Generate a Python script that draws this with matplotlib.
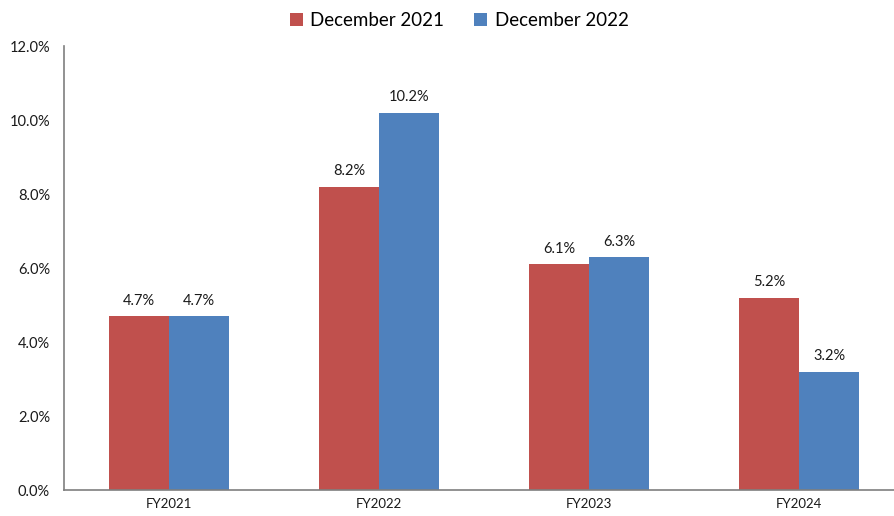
import matplotlib
matplotlib.use("Agg")
import matplotlib.pyplot as plt
import numpy as np

categories = ["FY2021", "FY2022", "FY2023", "FY2024"]
dec2021 = [4.7, 8.2, 6.1, 5.2]
dec2022 = [4.7, 10.2, 6.3, 3.2]
series_names = ["December 2021", "December 2022"]
yticks = [0, 2, 4, 6, 8, 10, 12]

plt.rcParams['font.family'] = ['Lato', 'DejaVu Sans']

fig = plt.figure(figsize=(8.95, 5.16), dpi=100)
ax = fig.add_axes([64/895, 26/516, 840/895, 444/516])

x = np.arange(len(categories))
w = 0.287
b1 = ax.bar(x - w/2, dec2021, w, color="#C0504D", label=series_names[0])
b2 = ax.bar(x + w/2, dec2022, w, color="#4F81BD", label=series_names[1])

for bars, vals in ((b1, dec2021), (b2, dec2022)):
    for r, v in zip(bars, vals):
        ax.text(r.get_x() + r.get_width()/2, v + 0.22, f"{v:.1f}%",
                ha="center", va="bottom", fontsize=10.5, color="#1a1a1a")

ax.set_xlim(-0.5, 3.5)
ax.set_ylim(0, 12)
ax.set_yticks(yticks)
ax.set_yticklabels([f"{t:.1f}%" for t in yticks], fontsize=10.5, color="#1a1a1a")
ax.set_xticks(x)
ax.set_xticklabels(categories, fontsize=9.5, color="#1a1a1a")
ax.tick_params(axis="both", length=0, pad=6)
ax.tick_params(axis="y", pad=10)
for s in ("top", "right"):
    ax.spines[s].set_visible(False)
for s in ("left", "bottom"):
    ax.spines[s].set_color("#7f7f7f")
    ax.spines[s].set_linewidth(1.2)

fig.legend(loc="upper center", bbox_to_anchor=(0.513, 1.01), ncol=2, frameon=False,
           fontsize=13.5, handlelength=0.7, handleheight=0.7, handletextpad=0.4,
           columnspacing=1.6)

fig.savefig("out.png", dpi=100)
